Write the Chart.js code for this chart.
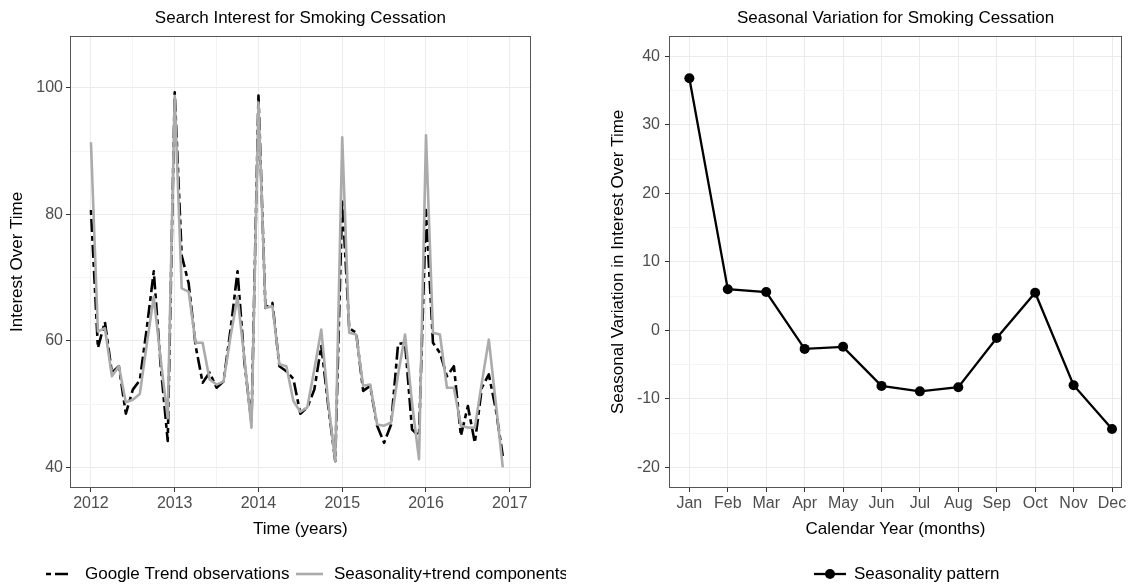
<!DOCTYPE html>
<html><head><meta charset="utf-8">
<script src="https://cdn.jsdelivr.net/npm/chart.js@4.4.0/dist/chart.umd.min.js"></script>
<style>
html,body{margin:0;padding:0;background:#fff;overflow:hidden;width:1132px;height:586px;}
#wrap{position:relative;width:1132px;height:586px;overflow:hidden;}
#c1{position:absolute;left:0;top:0;}
#c2{position:absolute;left:566px;top:0;}
</style></head><body>
<div id="wrap"><canvas id="c1" width="566" height="586"></canvas><canvas id="c2" width="566" height="586"></canvas></div>
<script>
// ---------- data ----------
const startYear = 2012;           // first month = Jan 2012, monthly series
const observations = [
  80.7, 58.9, 63.0, 55.0, 56.0, 48.5, 52.3, 53.8, 62.0, 71.0, 56.0, 44.2,
  99.3, 73.5, 69.1, 59.2, 53.4, 55.0, 52.6, 53.6, 61.8, 71.0, 56.5, 47.1,
  98.8, 65.2, 66.0, 56.0, 55.2, 54.0, 48.5, 49.5, 52.3, 59.2, 49.7, 41.0,
  82.5, 62.0, 61.3, 52.1, 52.9, 46.6, 43.9, 46.8, 59.5, 59.7, 46.0, 45.0,
  80.7, 59.7, 58.1, 54.4, 56.0, 45.0, 49.7, 43.9, 52.6, 54.7, 49.2, 41.8
];
const seasonTrend = [
  91.4, 61.5, 62.0, 54.4, 56.0, 50.3, 50.7, 51.6, 59.5, 67.0, 57.0, 47.8,
  98.7, 68.3, 67.8, 59.7, 59.7, 53.9, 53.1, 53.6, 60.7, 67.0, 57.1, 46.3,
  97.7, 65.2, 65.5, 56.3, 56.0, 50.5, 48.8, 49.5, 55.5, 61.8, 50.2, 41.0,
  92.2, 61.3, 61.0, 52.9, 53.1, 46.8, 46.6, 47.1, 54.7, 61.0, 50.2, 41.3,
  92.5, 61.3, 61.0, 52.6, 52.6, 46.6, 46.3, 46.3, 53.4, 60.2, 50.2, 40.0
];
const monthNames = ['Jan','Feb','Mar','Apr','May','Jun','Jul','Aug','Sep','Oct','Nov','Dec'];
const seasonality = [36.8, 6.0, 5.6, -2.7, -2.4, -8.1, -8.9, -8.3, -1.1, 5.5, -8.0, -14.4];

const yearTicks = [2012, 2013, 2014, 2015, 2016, 2017];
const yearMinorTicks = [2012.5, 2013.5, 2014.5, 2015.5, 2016.5];
const interestTicks = [40, 60, 80, 100];
const interestMinorTicks = [50, 70, 90];
const monthTicks = [1,2,3,4,5,6,7,8,9,10,11,12];
const seasonalTicks = [-20, -10, 0, 10, 20, 30, 40];
const seasonalMinorTicks = [-15, -5, 5, 15, 25, 35];

// ---------- styling helpers ----------
const FONT = "'Liberation Sans', Arial, Helvetica, sans-serif";
const TICK_COL = '#4d4d4d';
const GRID_MAJOR = '#ebebeb';
const GRID_MINOR = '#f4f4f4';

function setTicks(major, minor) {
  return (scale) => {
    const all = major.map(v => ({value: v, isMinor: false}))
      .concat(minor.map(v => ({value: v, isMinor: true})));
    all.sort((a, b) => a.value - b.value);
    scale.ticks = all;
  };
}
const gridColor = c => (c.tick && c.tick.isMinor) ? GRID_MINOR : GRID_MAJOR;
const tickColor = c => (c.tick && c.tick.isMinor) ? 'rgba(0,0,0,0)' : '#333333';
const labelOf = fmt => function (value, index, ticks) {
  return ticks[index].isMinor ? '' : fmt(value);
};

const framePlugin = {
  id: 'frame',
  afterDatasetsDraw(chart) {
    const {ctx, chartArea: a} = chart;
    ctx.save();
    ctx.strokeStyle = '#555555';
    ctx.lineWidth = 1;
    const l = Math.round(a.left) + 0.5, t = Math.round(a.top) + 0.5;
    const r = Math.round(a.right) - 0.5, b = Math.round(a.bottom) - 0.5;
    ctx.strokeRect(l, t, r - l, b - t);
    ctx.restore();
  }
};

function titlePlugin(text) {
  return {
    id: 'ptitle',
    afterDraw(chart) {
      const {ctx, chartArea: a} = chart;
      ctx.save();
      ctx.font = '17px ' + FONT;
      ctx.fillStyle = '#000';
      ctx.textAlign = 'center';
      ctx.textBaseline = 'middle';
      ctx.fillText(text, (a.left + a.right) / 2, 18.5);
      ctx.restore();
    }
  };
}

// legend items: {x0, x1, text, tx, color, dash, width, point}
function legendPlugin(items, y) {
  return {
    id: 'plegend',
    afterDraw(chart) {
      const ctx = chart.ctx;
      ctx.save();
      items.forEach(it => {
        ctx.beginPath();
        ctx.setLineDash(it.dash || []);
        ctx.lineCap = 'butt';
        ctx.strokeStyle = it.color;
        ctx.lineWidth = it.width;
        ctx.moveTo(it.x0, y);
        ctx.lineTo(it.x1, y);
        ctx.stroke();
        ctx.setLineDash([]);
        if (it.point) {
          ctx.beginPath();
          ctx.fillStyle = it.color;
          ctx.arc((it.x0 + it.x1) / 2, y, it.point, 0, Math.PI * 2);
          ctx.fill();
        }
        ctx.font = '17px ' + FONT;
        ctx.fillStyle = '#000';
        ctx.textAlign = 'left';
        ctx.textBaseline = 'middle';
        ctx.fillText(it.text, it.tx, y);
      });
      ctx.restore();
    }
  };
}

Chart.defaults.font.family = FONT;
Chart.defaults.animation = false;

const OBS_DASH = [5, 4, 13, 4];

// ---------- left chart ----------
const timePts = arr => arr.map((v, i) => ({x: startYear + i / 12, y: v}));

new Chart(document.getElementById('c1'), {
  type: 'line',
  data: {
    datasets: [
      {
        label: 'Google Trend observations',
        data: timePts(observations),
        borderColor: '#000000',
        borderWidth: 2.6,
        borderDash: OBS_DASH,
        borderJoinStyle: 'round',
        pointRadius: 0,
        tension: 0,
        order: 2
      },
      {
        label: 'Seasonality+trend components',
        data: timePts(seasonTrend),
        borderColor: '#ababab',
        borderWidth: 2.6,
        borderJoinStyle: 'round',
        pointRadius: 0,
        tension: 0,
        order: 1
      }
    ]
  },
  options: {
    responsive: false,
    devicePixelRatio: 1,
    layout: {padding: {left: 0, right: 35.3, top: 35.7, bottom: 46}},
    plugins: {legend: {display: false}, title: {display: false}, tooltip: {enabled: false}},
    scales: {
      x: {
        type: 'linear',
        min: 2011.75, max: 2017.25,
        bounds: 'data',
        afterBuildTicks: setTicks(yearTicks, yearMinorTicks),
        afterFit: s => { s.height = 52; },
        grid: {color: gridColor, lineWidth: 1, tickLength: 4, tickColor: tickColor, drawTicks: true},
        border: {display: false},
        ticks: {autoSkip: false, maxRotation: 0, padding: 1.5, color: TICK_COL, font: {size: 16},
                callback: labelOf(v => String(v))},
        title: {display: true, text: 'Time (years)', color: '#000', font: {size: 17}, padding: {top: 0, bottom: 0}}
      },
      y: {
        type: 'linear',
        min: 36.75, max: 108.25,
        bounds: 'data',
        afterBuildTicks: setTicks(interestTicks, interestMinorTicks),
        afterFit: s => { s.width = 70; },
        grid: {color: gridColor, lineWidth: 1, tickLength: 4, tickColor: tickColor},
        border: {display: false},
        ticks: {autoSkip: false, padding: 3, color: TICK_COL, font: {size: 16},
                callback: labelOf(v => String(v))},
        title: {display: true, text: 'Interest Over Time', color: '#000', font: {size: 17}, padding: {top: 7, bottom: 0}}
      }
    }
  },
  plugins: [framePlugin, titlePlugin('Search Interest for Smoking Cessation'),
    legendPlugin([
      {x0: 46, x1: 70, text: 'Google Trend observations', tx: 85, color: '#000', dash: OBS_DASH, width: 2.6},
      {x0: 296, x1: 323, text: 'Seasonality+trend components', tx: 334, color: '#ababab', width: 2.6}
    ], 574)]
});

// ---------- right chart ----------
new Chart(document.getElementById('c2'), {
  type: 'line',
  data: {
    datasets: [{
      label: 'Seasonality pattern',
      data: seasonality.map((v, i) => ({x: monthTicks[i], y: v})),
      borderColor: '#000',
      backgroundColor: '#000',
      borderWidth: 2.3,
      pointRadius: 5,
      pointBorderWidth: 0,
      pointBackgroundColor: '#000',
      tension: 0
    }]
  },
  options: {
    responsive: false,
    devicePixelRatio: 1,
    layout: {padding: {left: 0, right: 10, top: 35.7, bottom: 46}},
    plugins: {legend: {display: false}, title: {display: false}, tooltip: {enabled: false}},
    scales: {
      x: {
        type: 'linear',
        min: 0.47, max: 12.26,
        bounds: 'data',
        afterBuildTicks: setTicks(monthTicks, []),
        afterFit: s => { s.height = 52; },
        grid: {color: gridColor, lineWidth: 1, tickLength: 4, tickColor: tickColor},
        border: {display: false},
        ticks: {autoSkip: false, maxRotation: 0, padding: 1.5, color: TICK_COL, font: {size: 16},
                callback: labelOf(v => monthNames[v - 1])},
        title: {display: true, text: 'Calendar Year (months)', color: '#000', font: {size: 17}, padding: {top: 0, bottom: 0}}
      },
      y: {
        type: 'linear',
        min: -23, max: 43,
        bounds: 'data',
        afterBuildTicks: setTicks(seasonalTicks, seasonalMinorTicks),
        afterFit: s => { s.width = 103; },
        grid: {color: gridColor, lineWidth: 1, tickLength: 4, tickColor: tickColor},
        border: {display: false},
        ticks: {autoSkip: false, padding: 5, color: TICK_COL, font: {size: 16},
                callback: labelOf(v => String(v))},
        title: {display: true, text: 'Seasonal Variation in Interest Over Time', color: '#000', font: {size: 17}, padding: {top: 42, bottom: 0}}
      }
    }
  },
  plugins: [framePlugin, titlePlugin('Seasonal Variation for Smoking Cessation'),
    legendPlugin([
      {x0: 248, x1: 280, text: 'Seasonality pattern', tx: 288, color: '#000', width: 2.3, point: 5}
    ], 574)]
});
</script>
</body></html>
